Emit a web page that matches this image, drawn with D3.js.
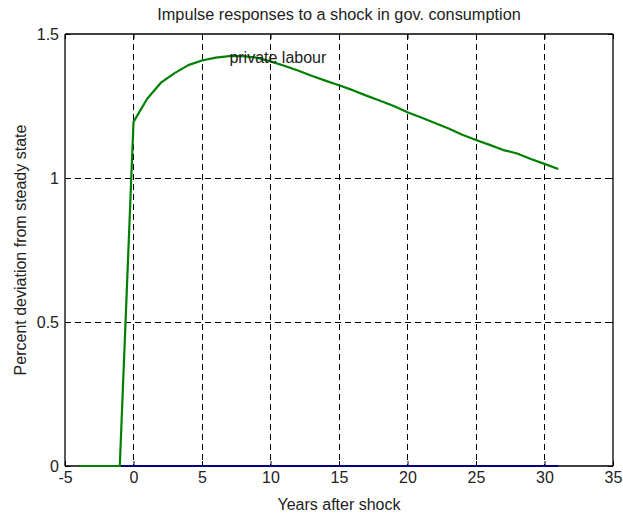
<!DOCTYPE html>
<html>
<head>
<meta charset="utf-8">
<script src="https://cdn.jsdelivr.net/npm/d3@7"></script>
<style>
body{margin:0;background:#fff;}
text{font-family:"Liberation Sans",Arial,sans-serif;fill:#222;}
</style>
</head>
<body>
<svg id="chart" width="623" height="516"></svg>
<script>
const years = [-4,-3,-2,-1,0,1,2,3,4,5,6,7,8,9,10,11,12,13,14,15,16,17,18,19,20,21,22,23,24,25,26,27,28,29,30,31];
const privateLabour = [0,0,0,0,1.195,1.275,1.331,1.364,1.392,1.408,1.418,1.423,1.423,1.418,1.405,1.39,1.373,1.355,1.338,1.322,1.305,1.286,1.268,1.25,1.228,1.21,1.191,1.172,1.15,1.132,1.115,1.097,1.085,1.066,1.049,1.031];
const baseYears = [-1,31];
const baseline = [0,0];
const xTicks = [-5,0,5,10,15,20,25,30,35];
const xTickLabels = ["-5","0","5","10","15","20","25","30","35"];
const yTicks = [0,0.5,1,1.5];
const yTickLabels = ["0","0.5","1","1.5"];
const titleText = "Impulse responses to a shock in gov. consumption";
const xLabel = "Years after shock";
const yLabel = "Percent deviation from steady state";
const annotation = {x:7, y:1.42, text:"private labour"};

const FS = 16;
const svg = d3.select("#chart");
const m = {l:65, r:613, t:34, b:466};
const x = d3.scaleLinear().domain([-5,35]).range([m.l,m.r]);
const y = d3.scaleLinear().domain([0,1.5]).range([m.b,m.t]);

// grid
const g = svg.append("g");
g.selectAll(".vg").data(xTicks.filter(d=>d>-5&&d<35)).enter().append("line")
  .attr("x1",d=>x(d)).attr("x2",d=>x(d)).attr("y1",m.t).attr("y2",m.b)
  .attr("stroke","#000").attr("stroke-width",1).attr("stroke-dasharray","6,4").attr("shape-rendering","crispEdges");
g.selectAll(".hg").data(yTicks.filter(d=>d>0&&d<1.5)).enter().append("line")
  .attr("x1",m.l).attr("x2",m.r).attr("y1",d=>y(d)).attr("y2",d=>y(d))
  .attr("stroke","#000").attr("stroke-width",1).attr("stroke-dasharray","6,4").attr("shape-rendering","crispEdges");

// axes box with inward ticks
const xb = d3.axisBottom(x).tickValues(xTicks).tickSize(-5).tickPadding(6).tickFormat((d,i)=>xTickLabels[i]);
const xt = d3.axisTop(x).tickValues(xTicks).tickSize(-5).tickFormat("");
const yl = d3.axisLeft(y).tickValues(yTicks).tickSize(-5).tickPadding(6).tickFormat((d,i)=>yTickLabels[i]);
const yr = d3.axisRight(y).tickValues(yTicks).tickSize(-5).tickFormat("");
function style(sel){
  sel.select(".domain").attr("stroke","#000").attr("stroke-width",1.3);
  sel.selectAll(".tick line").attr("stroke","#000");
  sel.selectAll("text").attr("font-size",FS).attr("fill","#222").attr("font-family","Liberation Sans, Arial, sans-serif");
}
svg.append("g").attr("transform",`translate(0,${m.b})`).call(xb).call(style).call(s=>s.select(".domain").attr("d",`M${m.l},0H${m.r}`));
svg.append("g").attr("transform",`translate(0,${m.t})`).call(xt).call(style).call(s=>s.select(".domain").attr("d",`M${m.l},0H${m.r}`));
svg.append("g").attr("transform",`translate(${m.l},0)`).call(yl).call(style).call(s=>s.select(".domain").attr("d",`M0,${m.t}V${m.b}`));
svg.append("g").attr("transform",`translate(${m.r},0)`).call(yr).call(style).call(s=>s.select(".domain").attr("d",`M0,${m.t}V${m.b}`));

// lines
const line = d3.line().x(d=>x(d[0])).y(d=>y(d[1]));
svg.append("path").datum(baseYears.map((d,i)=>[d,baseline[i]]))
  .attr("d",line).attr("fill","none").attr("stroke","#000080").attr("stroke-width",2);
svg.append("path").datum(years.map((d,i)=>[d,privateLabour[i]]))
  .attr("d",line).attr("fill","none").attr("stroke","#008000").attr("stroke-width",2.2).attr("stroke-linejoin","round");

// annotation
svg.append("text").attr("x",x(annotation.x)).attr("y",y(annotation.y)).attr("dy","0.35em")
  .attr("font-size",FS).text(annotation.text);

// titles
svg.append("text").attr("x",(m.l+m.r)/2).attr("y",20).attr("text-anchor","middle").attr("font-size",16.3).text(titleText);
svg.append("text").attr("x",(m.l+m.r)/2).attr("y",510).attr("text-anchor","middle").attr("font-size",FS).text(xLabel);
svg.append("text").attr("transform",`translate(26,${(m.t+m.b)/2}) rotate(-90)`).attr("text-anchor","middle").attr("font-size",FS).text(yLabel);
</script>
</body>
</html>
